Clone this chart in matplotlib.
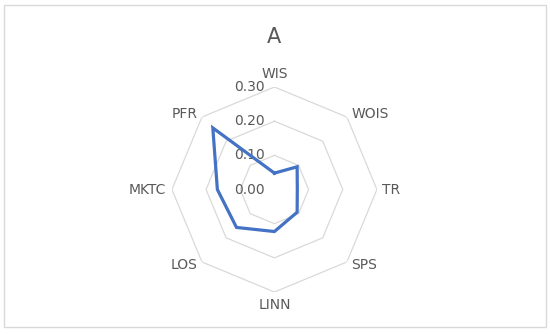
import numpy as np
import matplotlib.pyplot as plt
from matplotlib.patches import Rectangle

categories = ['WIS', 'WOIS', 'TR', 'SPS', 'LINN', 'LOS', 'MKTC', 'PFR']
values = [0.048, 0.094, 0.067, 0.094, 0.123, 0.157, 0.167, 0.255]
grid_levels = [0.10, 0.20, 0.30]
tick_values = [0.00, 0.10, 0.20, 0.30]

text_color = '#595959'
line_color = '#4472C4'
grid_color = '#D9D9D9'

fig = plt.figure(figsize=(5.5, 3.34), dpi=100)
fig.patches.append(Rectangle((0.008, 0.0195), 0.9845, 0.9655, transform=fig.transFigure,
                             fill=False, edgecolor=grid_color, linewidth=1))

ax = fig.add_axes([0.499 - 0.1864, 0.4326 - 0.3069, 0.3727, 0.6138], projection='polar')
ax.set_theta_offset(np.pi / 2)
ax.set_theta_direction(-1)
ax.set_ylim(0, 0.30)
ax.grid(False)
ax.spines['polar'].set_visible(False)
ax.set_xticks([])
ax.set_yticks([])
ax.patch.set_alpha(0)

n = len(categories)
angles = np.linspace(0, 2 * np.pi, n, endpoint=False)
closed = np.append(angles, angles[0])

# octagon grid
for lv in grid_levels:
    ax.plot(closed, [lv] * (n + 1), color=grid_color, linewidth=0.9, zorder=1)

# data
ax.plot(closed, values + [values[0]], color=line_color, linewidth=2.3, zorder=3,
        solid_joinstyle='miter')

# radial tick labels
for v in tick_values:
    ax.annotate(f'{v:.2f}', xy=(0, v), xytext=(-7, 0), textcoords='offset points',
                ha='right', va='center', fontsize=10, color=text_color, zorder=2)

# category labels
for ang, name in zip(angles, categories):
    dx = np.sin(ang)
    dy = np.cos(ang)
    if abs(dx) < 0.1:
        ha, va, off = 'center', ('bottom' if dy > 0 else 'top'), (0, 4 * np.sign(dy))
    elif abs(dy) < 0.1:
        ha, va, off = ('left' if dx > 0 else 'right'), 'center', (4 * np.sign(dx), 0)
    else:
        ha = 'left' if dx > 0 else 'right'
        va = 'center'
        off = (3 * np.sign(dx), 2 * np.sign(dy))
    ax.annotate(name, xy=(ang, 0.30), xytext=off, textcoords='offset points',
                ha=ha, va=va, fontsize=10, color=text_color)

fig.text(0.499, 0.889, 'A', ha='center', va='center', fontsize=15, color=text_color)

fig.savefig('out.png', dpi=100)
